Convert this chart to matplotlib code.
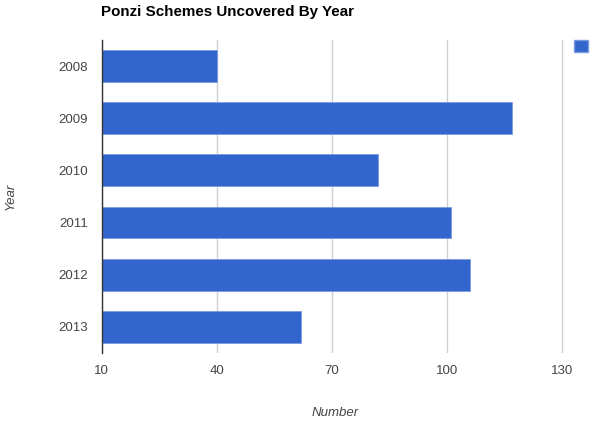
import matplotlib
matplotlib.use("Agg")
import matplotlib.pyplot as plt
from matplotlib.patches import Patch

plt.rcParams["font.family"] = ["Liberation Sans", "DejaVu Sans"]

# data
years = ["2008", "2009", "2010", "2011", "2012", "2013"]
schemes = [40, 117, 82, 101, 106, 62]
x_ticks = [10, 40, 70, 100, 130]

bar_color = "#3366CC"
text_color = "#444444"

fig = plt.figure(figsize=(5.92, 4.23), dpi=100)
ax = fig.add_axes([0.1718, 0.1655, 0.787, 0.740])

pos = list(range(len(years)))
ax.barh(pos, [v - 10 for v in schemes], left=10, height=0.61,
        color=bar_color, edgecolor="#7a9be0", linewidth=0.6, zorder=3)

ax.set_ylim(len(years) - 0.5, -0.5)
ax.set_xlim(10, 131.5)
ax.set_yticks(pos)
ax.set_yticklabels(years)
ax.set_xticks(x_ticks)
ax.set_xticklabels([str(t) for t in x_ticks])

ax.grid(axis="x", color="#d0d0d0", linewidth=1, zorder=0)
ax.tick_params(axis="both", length=0, labelsize=9.5, labelcolor=text_color)
ax.tick_params(axis="y", pad=10)
ax.tick_params(axis="x", pad=9)

for side in ["top", "right", "bottom"]:
    ax.spines[side].set_visible(False)
ax.spines["left"].set_color("#333333")
ax.spines["left"].set_linewidth(1)
ax.spines["left"].set_zorder(4)

ax.set_xlabel("Number", style="italic", fontsize=9.5, color=text_color, labelpad=21)
ax.set_ylabel("Year", style="italic", fontsize=9.5, color=text_color, labelpad=30)

fig.text(0.171, 0.971, "Ponzi Schemes Uncovered By Year", fontsize=10.9,
         fontweight="bold", color="#000000", ha="left", va="center")

ax.legend(handles=[Patch(facecolor=bar_color, edgecolor="#7a9be0")], labels=[""],
          loc="upper left", bbox_to_anchor=(0.9696, 0.9054), bbox_transform=fig.transFigure,
          frameon=False, handlelength=1.0, handleheight=1.0, handletextpad=0,
          borderpad=0, borderaxespad=0)

fig.savefig("out.png", dpi=100)
